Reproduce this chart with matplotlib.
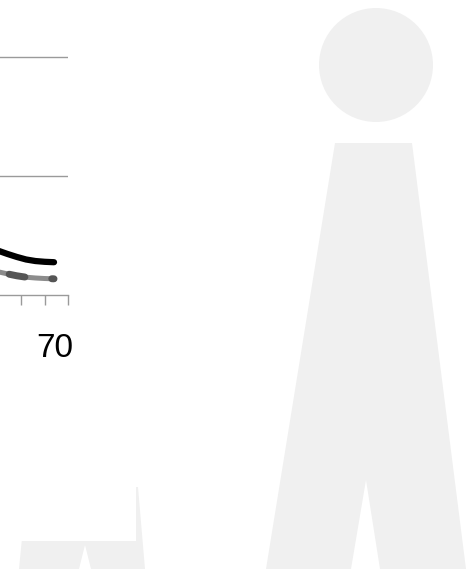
import matplotlib
matplotlib.use("Agg")
import matplotlib.pyplot as plt
from matplotlib.patches import Polygon, Ellipse, Rectangle

plt.rcParams['font.family'] = ['Liberation Sans', 'DejaVu Sans']
plt.rcParams['lines.scale_dashes'] = False

# ---- data ----
years = [53, 55, 57, 59, 61, 63, 65, 67]
series_black = [7.95, 7.45, 6.9, 6.4, 5.97, 5.71, 5.58, 5.51]
series_gray = [4.25, 3.9, 3.55, 3.23, 2.99, 2.86, 2.77, 2.72]
x_ticks = [55, 60, 65, 70]
x_ticklabel = "70"
y_grid = [20, 40]

W, H = 472, 569
fig = plt.figure(figsize=(W / 100, H / 100), dpi=100)
fig.patch.set_facecolor('white')

# background decoration axes (pixel coordinates)
bg = fig.add_axes([0, 0, 1, 1], zorder=0)
bg.set_xlim(0, W)
bg.set_ylim(H, 0)
bg.axis('off')
icon_col = '#f0f0f0'
# big person icon
bg.add_patch(Ellipse((376, 65), 114, 114, color=icon_col, lw=0))
bg.add_patch(Polygon([(335, 143), (412, 143), (466, 569), (380, 569),
                      (366, 480), (351, 569), (266, 569)],
                     closed=True, color=icon_col, lw=0))
# partially hidden small person icon
bg.add_patch(Polygon([(27, 487), (138, 487), (145, 569), (91, 569),
                      (85, 545), (79, 569), (19, 569)],
                     closed=True, color=icon_col, lw=0))
bg.add_patch(Rectangle((-5, 420), 141, 121, color='white', lw=0))

# main chart axes (extends past the left edge of the figure)
px_per_unit_x = 23.3 / 5
left_px = 68 - 70 * px_per_unit_x
base_px = 295
px_per_unit_y = 5.95
ax = fig.add_axes([left_px / W, (H - base_px) / H,
                   70 * px_per_unit_x / W, 60 * px_per_unit_y / H], zorder=1)
ax.patch.set_alpha(0)
ax.set_xlim(0, 70)
ax.set_ylim(0, 60)
for s in ['top', 'right', 'left']:
    ax.spines[s].set_visible(False)
ax.spines['bottom'].set_color('#9a9a9a')
ax.spines['bottom'].set_linewidth(1)
ax.set_xticks(x_ticks)
ax.set_xticklabels([''] * len(x_ticks))
ax.tick_params(axis='x', direction='out', length=7.2, width=1, color='#9a9a9a')
ax.set_yticks([])
for g in y_grid:
    ax.axhline(g, color='#9a9a9a', lw=1, zorder=1)

ax.plot(years, series_black, color='black', lw=4.5,
        solid_capstyle='round', solid_joinstyle='round', zorder=3)
ax.plot(years, series_gray, color='#8c8c8c', lw=3.6,
        solid_capstyle='round', solid_joinstyle='round', zorder=3)
ax.plot(years, series_gray, color='#555555', lw=5.0,
        linestyle=(23.4, (11.5, 19.4)), dash_capstyle='round', zorder=4)

ax.annotate(x_ticklabel, xy=(70, 0), xycoords=('data', 'axes fraction'),
            xytext=(3.6, -27.5), textcoords='offset points',
            ha='right', va='top', fontsize=24, color='black')

fig.savefig('out.png', dpi=100, facecolor='white')
